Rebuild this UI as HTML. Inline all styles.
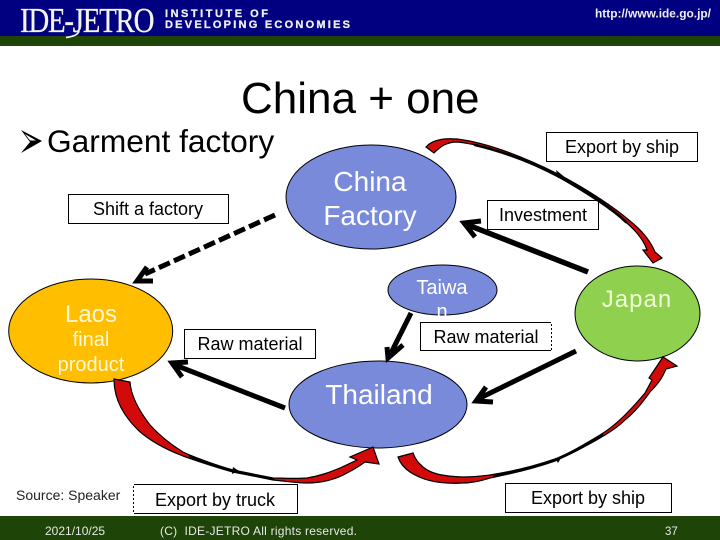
<!DOCTYPE html>
<html><head><meta charset="utf-8"><style>
html,body{margin:0;padding:0;background:#fff}
svg{display:block}
text{font-family:"Liberation Sans",sans-serif}
</style></head><body>
<svg width="720" height="540" viewBox="0 0 720 540" xmlns="http://www.w3.org/2000/svg">
<rect width="720" height="540" fill="#fff"/>
<rect width="720" height="36" fill="#000080"/>
<rect y="36" width="720" height="10" fill="#1e4407"/>
<rect y="516" width="720" height="24" fill="#1e4407"/>
<text transform="translate(20,32) scale(.825,1)" font-size="35" letter-spacing="-1.5" style="font-family:'Liberation Serif',serif" fill="#f4f4ee" stroke="#f4f4ee" stroke-width="0.3">IDE-JETRO</text>
<path d="M79,31 Q78,36 66,37.5" stroke="#f4f4ee" stroke-width="1.8" fill="none"/>
<text x="165" y="17" font-size="11" font-weight="bold" fill="#f0f0f0" stroke="#f0f0f0" stroke-width="0.3" textLength="103" lengthAdjust="spacing">INSTITUTE OF</text>
<text x="165" y="28" font-size="11" font-weight="bold" fill="#f0f0f0" stroke="#f0f0f0" stroke-width="0.3" textLength="185" lengthAdjust="spacing">DEVELOPING ECONOMIES</text>
<text x="595" y="17.5" font-size="11.5" font-weight="bold" fill="#f0f0f0" textLength="116" lengthAdjust="spacingAndGlyphs">http://www.ide.go.jp/</text>

<text x="241" y="113" font-size="44">China + one</text>
<polygon points="21,130 42,141 21,153 30,142" fill="#000"/>
<polygon points="25,134 36,140.5 30,140.5" fill="#fff"/>
<text x="47" y="152" font-size="31.7">Garment factory</text>

<g stroke="#000" stroke-width="1" fill="#7a8ada">
<ellipse cx="371" cy="197" rx="85" ry="52"/>
<ellipse cx="442.5" cy="290" rx="54.5" ry="25"/>
<ellipse cx="378" cy="404.5" rx="89" ry="43.5"/>
<ellipse cx="637.5" cy="313.5" rx="62.5" ry="47.5" fill="#90d04f"/>
<ellipse cx="90.7" cy="331" rx="82" ry="52" fill="#ffbf00"/>
</g>

<g fill="#fff" stroke="#000" stroke-width="1">
<rect x="546.5" y="132.5" width="151" height="29"/>
<rect x="487.5" y="200.5" width="111" height="29"/>
<rect x="68.5" y="194.5" width="160" height="29"/>
<rect x="184.5" y="329.5" width="131" height="29"/>
<rect x="420.5" y="322.5" width="131" height="28"/>
<rect x="133.5" y="484.5" width="164" height="29"/>
<rect x="505.5" y="483.5" width="166" height="29"/>
</g>
<line x1="551.5" y1="322" x2="551.5" y2="351" stroke="#fff" stroke-width="1" stroke-dasharray="2 2"/>
<line x1="133.5" y1="484" x2="133.5" y2="514" stroke="#fff" stroke-width="1" stroke-dasharray="2 2"/>

<g fill="#fff" text-anchor="middle">
<text x="370" y="191" font-size="28">China</text>
<text x="370" y="225" font-size="28">Factory</text>
<text x="442" y="294" font-size="20">Taiwa</text>
<text x="442" y="318" font-size="20">n</text>
<text x="637" y="307" font-size="24" letter-spacing="1" fill="#f0ffd8">Japan</text>
<text x="91" y="322" font-size="24" fill="#fff8d8">Laos</text>
<text x="91" y="346" font-size="20" fill="#fff8d8">final</text>
<text x="91" y="371" font-size="20" fill="#fff8d8">product</text>
<text x="379" y="404" font-size="28">Thailand</text>
</g>
<rect x="421" y="323" width="130" height="27" fill="#fff"/>

<g font-size="18" text-anchor="middle" fill="#000">
<text x="622" y="153">Export by ship</text>
<text x="543" y="221">Investment</text>
<text x="148" y="215">Shift a factory</text>
<text x="250" y="350">Raw material</text>
<text x="486" y="343">Raw material</text>
<text x="215" y="506">Export by truck</text>
<text x="588" y="504">Export by ship</text>
</g>
<text x="16" y="500" font-size="14" fill="#222">Source: Speaker</text>
<g font-size="12" fill="#e8e8e8">
<text x="45" y="535">2021/10/25</text>
<text x="160" y="535" textLength="197" lengthAdjust="spacing">(C)&#160;&#160;IDE-JETRO All rights reserved.</text>
<text x="665" y="535" font-size="11.5">37</text>
</g>

<!-- straight arrows -->
<g stroke="#000" fill="none">
<line x1="588" y1="272" x2="468" y2="225" stroke-width="5.5"/>
<polyline points="481,221 464,223 475,237" stroke-width="5"/>
<line x1="275" y1="215" x2="145" y2="274" stroke-width="5" stroke-dasharray="12 4.5"/>
<polyline points="147,267 137,281 153,281" stroke-width="5"/>
<line x1="285" y1="408" x2="175" y2="365" stroke-width="5"/>
<polyline points="188,362 172,363 182,377" stroke-width="5"/>
<line x1="411" y1="313" x2="391" y2="353" stroke-width="5"/>
<polyline points="387,347 388,358 403,345" stroke-width="5"/>
<line x1="576" y1="351" x2="480" y2="398" stroke-width="5"/>
<polyline points="486,387 476,401 493,402" stroke-width="5"/>
</g>

<!-- curved red arrows -->
<g fill="#d20a0a" stroke="#000" stroke-width="1.2" stroke-linejoin="miter">
<path d="M426,147 C432,140 444,138 457,139 C490,143 530,160 560,175 C590,191 615,208 630,221 C640,229 650,240 655,252 L662,258 L653,263 L643,250 L647,250 C644,241 638,233 628,224 C612,210 590,195 560,178 C530,162 490,145 457,142 C447,142 441,146 434,153 Z"/>
<path d="M114,379 L130,382 C131,397 140,412 150,425 C160,436 170,444 183,452 C200,460 215,465 233,470 L273,478 C285,478 295,479 307,478 C320,476 330,472 340,468 L357,460 L350,457 L373,447 L379,464 L365,462 C358,467 353,470 347,473 C335,480 320,483 307,483 C295,483 285,481 273,480 L233,472 C215,467 200,462 183,456 C165,449 150,441 138,430 C124,416 114,400 114,379 Z"/>
<path d="M398,457 L413,453 C416,461 419,463 423,467 C430,473 440,476 462,477 C475,477 482,476 490,475 C515,471 535,466 555,459 C570,453 585,444 600,435 C610,429 618,422 625,415 C635,405 640,399 645,393 L652,380 L649,378 L663,357 L677,366 L666,369 C664,373 662,380 650,392 C642,403 635,412 625,420 C618,427 610,432 600,438 C585,447 570,454 555,461 C535,468 515,473 490,478 C480,481 472,483 462,483 C445,484 425,482 410,472 C404,468 400,463 398,457 Z"/>
</g>
<g fill="none" stroke="#000" stroke-width="2.6" stroke-linecap="round">
<path d="M475,145 C505,152 535,164 560,176.5 C590,192 612,209 626,222"/>
<path d="M190,456 C205,462 220,467 233,471 L273,479"/>
<path d="M495,476 C520,471 538,466 555,460 C570,454 585,446 602,435"/>
</g>
<g fill="#000">
<polygon points="556,170 564,176.5 558,178"/>
<polygon points="233,467 239,471 232,474"/>
<polygon points="555,458 561,458 558,463"/>
</g>
</svg>
</body></html>
